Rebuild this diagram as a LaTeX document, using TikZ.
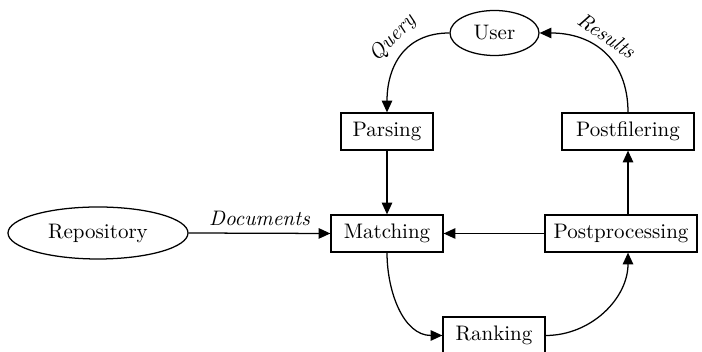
\documentclass[tikz,border=0pt]{standalone}
\usetikzlibrary{arrows.meta,shapes.geometric}
\begin{document}
\begin{tikzpicture}[x=0.4762pt,y=-0.4762pt,
  box/.style={draw,line width=0.6pt,rectangle,inner sep=0pt,minimum height={37*0.4762pt}},
  oval/.style={draw,line width=0.6pt,ellipse,inner sep=0pt},
  arr/.style={line width=0.6pt,-{Triangle[length=5.6pt,width=5pt]}},
  lbl/.style={font=\itshape}]
\useasboundingbox (0,0) rectangle (702,352);
\node[oval,minimum width={89*0.4762pt},minimum height={45*0.4762pt}] (user) at (494.5,33) {User};
\node[oval,minimum width={180*0.4762pt},minimum height={52*0.4762pt}] (repo) at (98,233) {Repository};
\node[box,minimum width={92*0.4762pt}] (parsing) at (387,131.5) {Parsing};
\node[box,minimum width={112*0.4762pt}] (matching) at (387,233.5) {Matching};
\node[box,minimum width={132*0.4762pt}] (postfil) at (628,131.5) {Postfilering};
\node[box,minimum width={152*0.4762pt}] (postproc) at (621,233.5) {Postprocessing};
\node[box,minimum width={102*0.4762pt}] (ranking) at (494,335.5) {Ranking};
\coordinate (ppn) at (postproc.north -| postfil.south);
\coordinate (pps) at (postproc.south -| postfil.south);
\draw[arr] (user.west) to[out=180,in=90,looseness=1.15] node[lbl,pos=0.43,sloped,above] {Query} (parsing.north);
\draw[arr] (postfil.north) to[out=90,in=0,looseness=1.15] node[lbl,pos=0.56,sloped,above] {Results} (user.east);
\draw[arr] (parsing.south) -- (matching.north);
\draw[arr] (repo.east) -- node[lbl,above] {Documents} (matching.west);
\draw[arr] (postproc.west) -- (matching.east);
\draw[arr] (ppn) -- (postfil.south);
\draw[arr] (matching.south) to[out=-90,in=180] (ranking.west);
\draw[arr] (ranking.east) to[out=0,in=-90] (pps);
\end{tikzpicture}
\end{document}
